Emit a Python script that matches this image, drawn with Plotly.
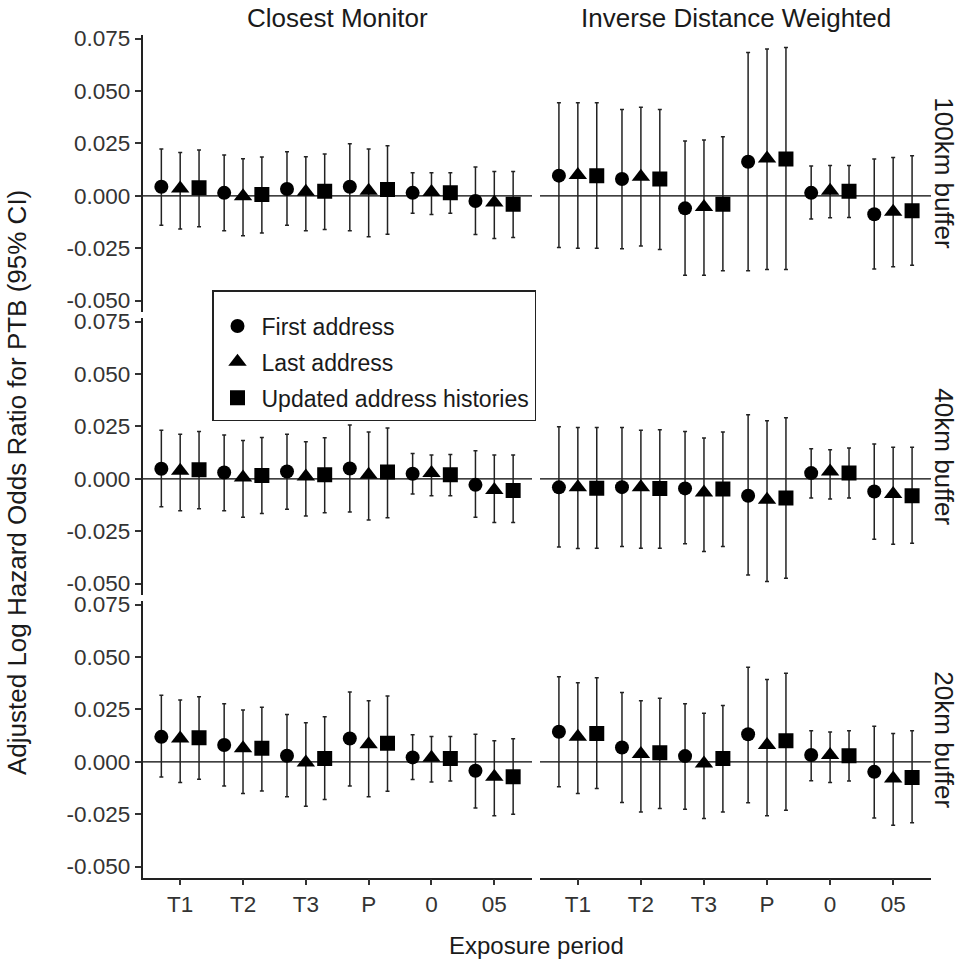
import plotly.graph_objects as go

# ---------------- data ----------------
periods = ["T1", "T2", "T3", "P", "0", "05"]
series_names = ["First address", "Last address", "Updated address histories"]
col_titles = ["Closest Monitor", "Inverse Distance Weighted"]
row_titles = ["100km buffer", "40km buffer", "20km buffer"]
y_tickvals = [-0.050, -0.025, 0.000, 0.025, 0.050, 0.075]
y_ticktext = ["-0.050", "-0.025", "0.000", "0.025", "0.050", "0.075"]

# each panel: [first, last, updated] for estimate, lower CI, upper CI
cm100_est = [[0.0043, 0.0014, 0.0032, 0.0043, 0.0014, -0.0025],
             [0.0035, -0.0002, 0.0019, 0.0024, 0.0018, -0.0032],
             [0.0038, 0.0006, 0.0022, 0.0030, 0.0014, -0.0040]]
cm100_lo = [[-0.0140, -0.0167, -0.0140, -0.0167, -0.0083, -0.0185],
            [-0.0159, -0.0191, -0.0167, -0.0196, -0.0089, -0.0204],
            [-0.0148, -0.0177, -0.0161, -0.0183, -0.0083, -0.0199]]
cm100_hi = [[0.0223, 0.0194, 0.0210, 0.0248, 0.0110, 0.0137],
            [0.0207, 0.0177, 0.0186, 0.0223, 0.0110, 0.0116],
            [0.0218, 0.0185, 0.0199, 0.0239, 0.0110, 0.0116]]

idw100_est = [[0.0096, 0.0080, -0.0060, 0.0162, 0.0014, -0.0088],
              [0.0099, 0.0091, -0.0053, 0.0178, 0.0024, -0.0076],
              [0.0096, 0.0080, -0.0040, 0.0175, 0.0022, -0.0072]]
idw100_lo = [[-0.0247, -0.0253, -0.0379, -0.0358, -0.0111, -0.0349],
             [-0.0250, -0.0240, -0.0379, -0.0352, -0.0105, -0.0339],
             [-0.0250, -0.0256, -0.0358, -0.0352, -0.0104, -0.0331]]
idw100_hi = [[0.0444, 0.0412, 0.0261, 0.0683, 0.0142, 0.0175],
             [0.0444, 0.0422, 0.0266, 0.0700, 0.0145, 0.0183],
             [0.0444, 0.0412, 0.0282, 0.0707, 0.0145, 0.0191]]

cm40_est = [[0.0048, 0.0030, 0.0035, 0.0049, 0.0024, -0.0029],
            [0.0038, 0.0006, 0.0011, 0.0019, 0.0027, -0.0053],
            [0.0043, 0.0016, 0.0019, 0.0032, 0.0019, -0.0056]]
cm40_lo = [[-0.0134, -0.0153, -0.0145, -0.0158, -0.0073, -0.0183],
           [-0.0153, -0.0183, -0.0177, -0.0197, -0.0081, -0.0209],
           [-0.0143, -0.0166, -0.0162, -0.0186, -0.0081, -0.0209]]
cm40_hi = [[0.0231, 0.0209, 0.0212, 0.0256, 0.0121, 0.0134],
           [0.0213, 0.0183, 0.0177, 0.0223, 0.0113, 0.0113],
           [0.0225, 0.0197, 0.0196, 0.0242, 0.0116, 0.0113]]

idw40_est = [[-0.0041, -0.0040, -0.0046, -0.0081, 0.0027, -0.0061],
             [-0.0041, -0.0040, -0.0065, -0.0100, 0.0035, -0.0073],
             [-0.0045, -0.0046, -0.0049, -0.0092, 0.0027, -0.0081]]
idw40_lo = [[-0.0326, -0.0323, -0.0310, -0.0459, -0.0092, -0.0288],
            [-0.0333, -0.0331, -0.0347, -0.0490, -0.0096, -0.0312],
            [-0.0331, -0.0331, -0.0323, -0.0475, -0.0092, -0.0307]]
idw40_hi = [[0.0248, 0.0245, 0.0226, 0.0306, 0.0143, 0.0166],
            [0.0245, 0.0231, 0.0194, 0.0277, 0.0139, 0.0150],
            [0.0245, 0.0234, 0.0223, 0.0291, 0.0147, 0.0150]]

cm20_est = [[0.0119, 0.0080, 0.0029, 0.0111, 0.0021, -0.0043],
            [0.0111, 0.0064, -0.0003, 0.0084, 0.0019, -0.0072],
            [0.0115, 0.0064, 0.0016, 0.0088, 0.0016, -0.0072]]
cm20_lo = [[-0.0073, -0.0116, -0.0167, -0.0115, -0.0084, -0.0221],
           [-0.0099, -0.0151, -0.0212, -0.0167, -0.0097, -0.0258],
           [-0.0083, -0.0139, -0.0180, -0.0140, -0.0092, -0.0250]]
cm20_hi = [[0.0317, 0.0277, 0.0225, 0.0333, 0.0129, 0.0131],
           [0.0295, 0.0247, 0.0186, 0.0291, 0.0121, 0.0100],
           [0.0310, 0.0260, 0.0215, 0.0314, 0.0121, 0.0110]]

idw20_est = [[0.0143, 0.0068, 0.0027, 0.0131, 0.0032, -0.0048],
             [0.0119, 0.0037, -0.0008, 0.0080, 0.0032, -0.0080],
             [0.0135, 0.0043, 0.0016, 0.0100, 0.0029, -0.0075]]
idw20_lo = [[-0.0119, -0.0194, -0.0226, -0.0196, -0.0091, -0.0268],
            [-0.0151, -0.0239, -0.0271, -0.0258, -0.0099, -0.0303],
            [-0.0127, -0.0223, -0.0239, -0.0231, -0.0092, -0.0291]]
idw20_hi = [[0.0406, 0.0331, 0.0277, 0.0451, 0.0148, 0.0170],
            [0.0377, 0.0291, 0.0232, 0.0393, 0.0142, 0.0135],
            [0.0401, 0.0303, 0.0268, 0.0422, 0.0148, 0.0148]]

panels = [  # (row, col, est, lo, hi)
    (0, 0, cm100_est, cm100_lo, cm100_hi),
    (0, 1, idw100_est, idw100_lo, idw100_hi),
    (1, 0, cm40_est, cm40_lo, cm40_hi),
    (1, 1, idw40_est, idw40_lo, idw40_hi),
    (2, 0, cm20_est, cm20_lo, cm20_hi),
    (2, 1, idw20_est, idw20_lo, idw20_hi),
]

# ---------------- style ----------------
W, H = 961, 967
FONT = "Liberation Sans, Arial, sans-serif"
symbols = ["circle", "triangle-up", "square"]
msizes = [14, 16, 15]
dodge = [-0.3, 0.0, 0.3]
col_px = [(142.5, 532.0), (540.0, 931.0)]
row_top_px = [35.0, 318.0, 601.0]
row_h_px = 276.7
y_range = [-0.0553, 0.0767]
x_range = [0.4, 6.6]
TICK_SIZE = 22.5

fig = go.Figure()
layout = dict()
for k, (r, c, est, lo, hi) in enumerate(panels):
    idx = k + 1
    xa = "x" if idx == 1 else f"x{idx}"
    ya = "y" if idx == 1 else f"y{idx}"
    for s in range(3):
        xs = [i + 1 + dodge[s] for i in range(len(periods))]
        fig.add_trace(go.Scatter(
            x=xs, y=est[s], xaxis=xa, yaxis=ya, mode="markers",
            name=series_names[s], legendgroup=series_names[s],
            showlegend=(k == 0),
            marker=dict(symbol=symbols[s], size=msizes[s], color="black",
                        line=dict(width=0)),
            error_y=dict(type="data", symmetric=False,
                         array=[h - e for h, e in zip(hi[s], est[s])],
                         arrayminus=[e - l for e, l in zip(est[s], lo[s])],
                         color="#222222", thickness=1.5, width=2),
        ))
    x0, x1 = col_px[c]
    t = row_top_px[r]
    b = t + row_h_px
    xdom = [x0 / W, x1 / W]
    ydom = [1 - b / H, 1 - t / H]
    bottom = (r == 2)
    left = (c == 0)
    layout["xaxis" if idx == 1 else f"xaxis{idx}"] = dict(
        domain=xdom, anchor=ya, range=x_range,
        tickmode="array", tickvals=list(range(1, len(periods) + 1)), ticktext=periods,
        showticklabels=bottom, ticks="outside" if bottom else "", ticklen=6,
        tickwidth=1.5, tickcolor="#333333",
        showline=bottom, linecolor="#222222", linewidth=1.5,
        showgrid=False, zeroline=False, automargin=False,
        tickfont=dict(family=FONT, size=TICK_SIZE, color="#333333"),
    )
    layout["yaxis" if idx == 1 else f"yaxis{idx}"] = dict(
        domain=ydom, anchor=xa, range=y_range,
        tickmode="array", tickvals=y_tickvals, ticktext=y_ticktext,
        showticklabels=left, ticks="outside" if left else "", ticklen=6,
        tickwidth=1.5, tickcolor="#333333",
        showline=left, linecolor="#222222", linewidth=1.5,
        showgrid=False, zeroline=False, automargin=False,
        tickfont=dict(family=FONT, size=TICK_SIZE, color="#333333"),
    )

shapes = []
for k in range(len(panels)):
    idx = k + 1
    xa = "x" if idx == 1 else f"x{idx}"
    ya = "y" if idx == 1 else f"y{idx}"
    shapes.append(dict(type="line", xref=f"{xa} domain", yref=ya,
                       x0=0, x1=1, y0=0, y1=0,
                       line=dict(color="black", width=1.3), layer="below"))

annotations = []
for c, title in enumerate(col_titles):
    x0, x1 = col_px[c]
    annotations.append(dict(text=title, xref="paper", yref="paper",
                            x=(x0 + x1) / 2 / W, y=1 - 18 / H,
                            xanchor="center", yanchor="middle", showarrow=False,
                            font=dict(family=FONT, size=26, color="#1a1a1a")))
for r, title in enumerate(row_titles):
    cy = row_top_px[r] + row_h_px / 2
    annotations.append(dict(text=title, xref="paper", yref="paper",
                            x=944 / W, y=1 - cy / H, textangle=90,
                            xanchor="center", yanchor="middle", showarrow=False,
                            font=dict(family=FONT, size=26, color="#1a1a1a")))
annotations.append(dict(text="Adjusted Log Hazard Odds Ratio for PTB (95% CI)",
                        xref="paper", yref="paper", x=17 / W, y=1 - 483 / H,
                        textangle=-90, xanchor="center", yanchor="middle",
                        showarrow=False,
                        font=dict(family=FONT, size=26, color="#1a1a1a")))
annotations.append(dict(text="Exposure period", xref="paper", yref="paper",
                        x=536.5 / W, y=1 - 945 / H, xanchor="center",
                        yanchor="middle", showarrow=False,
                        font=dict(family=FONT, size=24, color="#1a1a1a")))

fig.update_layout(
    **layout,
    shapes=shapes,
    annotations=annotations,
    width=W, height=H,
    margin=dict(l=0, r=0, t=0, b=0, pad=0, autoexpand=False),
    paper_bgcolor="white", plot_bgcolor="white",
    showlegend=True,
    legend=dict(x=212 / W, y=1 - 290 / H, xanchor="left", yanchor="top",
                bgcolor="white", bordercolor="#222222", borderwidth=1.5,
                font=dict(family=FONT, size=23, color="#1a1a1a"),
                title=dict(text=" ", font=dict(size=10)),
                tracegroupgap=3, itemsizing="trace", itemwidth=38,
                entrywidth=330, entrywidthmode="pixels"),
    font=dict(family=FONT),
)

fig.write_html(
    "out.html",
    config={"displayModeBar": False},
    post_script=(
        "var d=document.getElementById('{plot_id}');"
        "d.style.position='fixed';d.style.top='0px';d.style.left='0px';"
        "document.body.style.margin='0';document.body.style.padding='0';"
        "document.body.style.overflow='hidden';"
        "document.documentElement.style.overflow='hidden';"
    ),
)
